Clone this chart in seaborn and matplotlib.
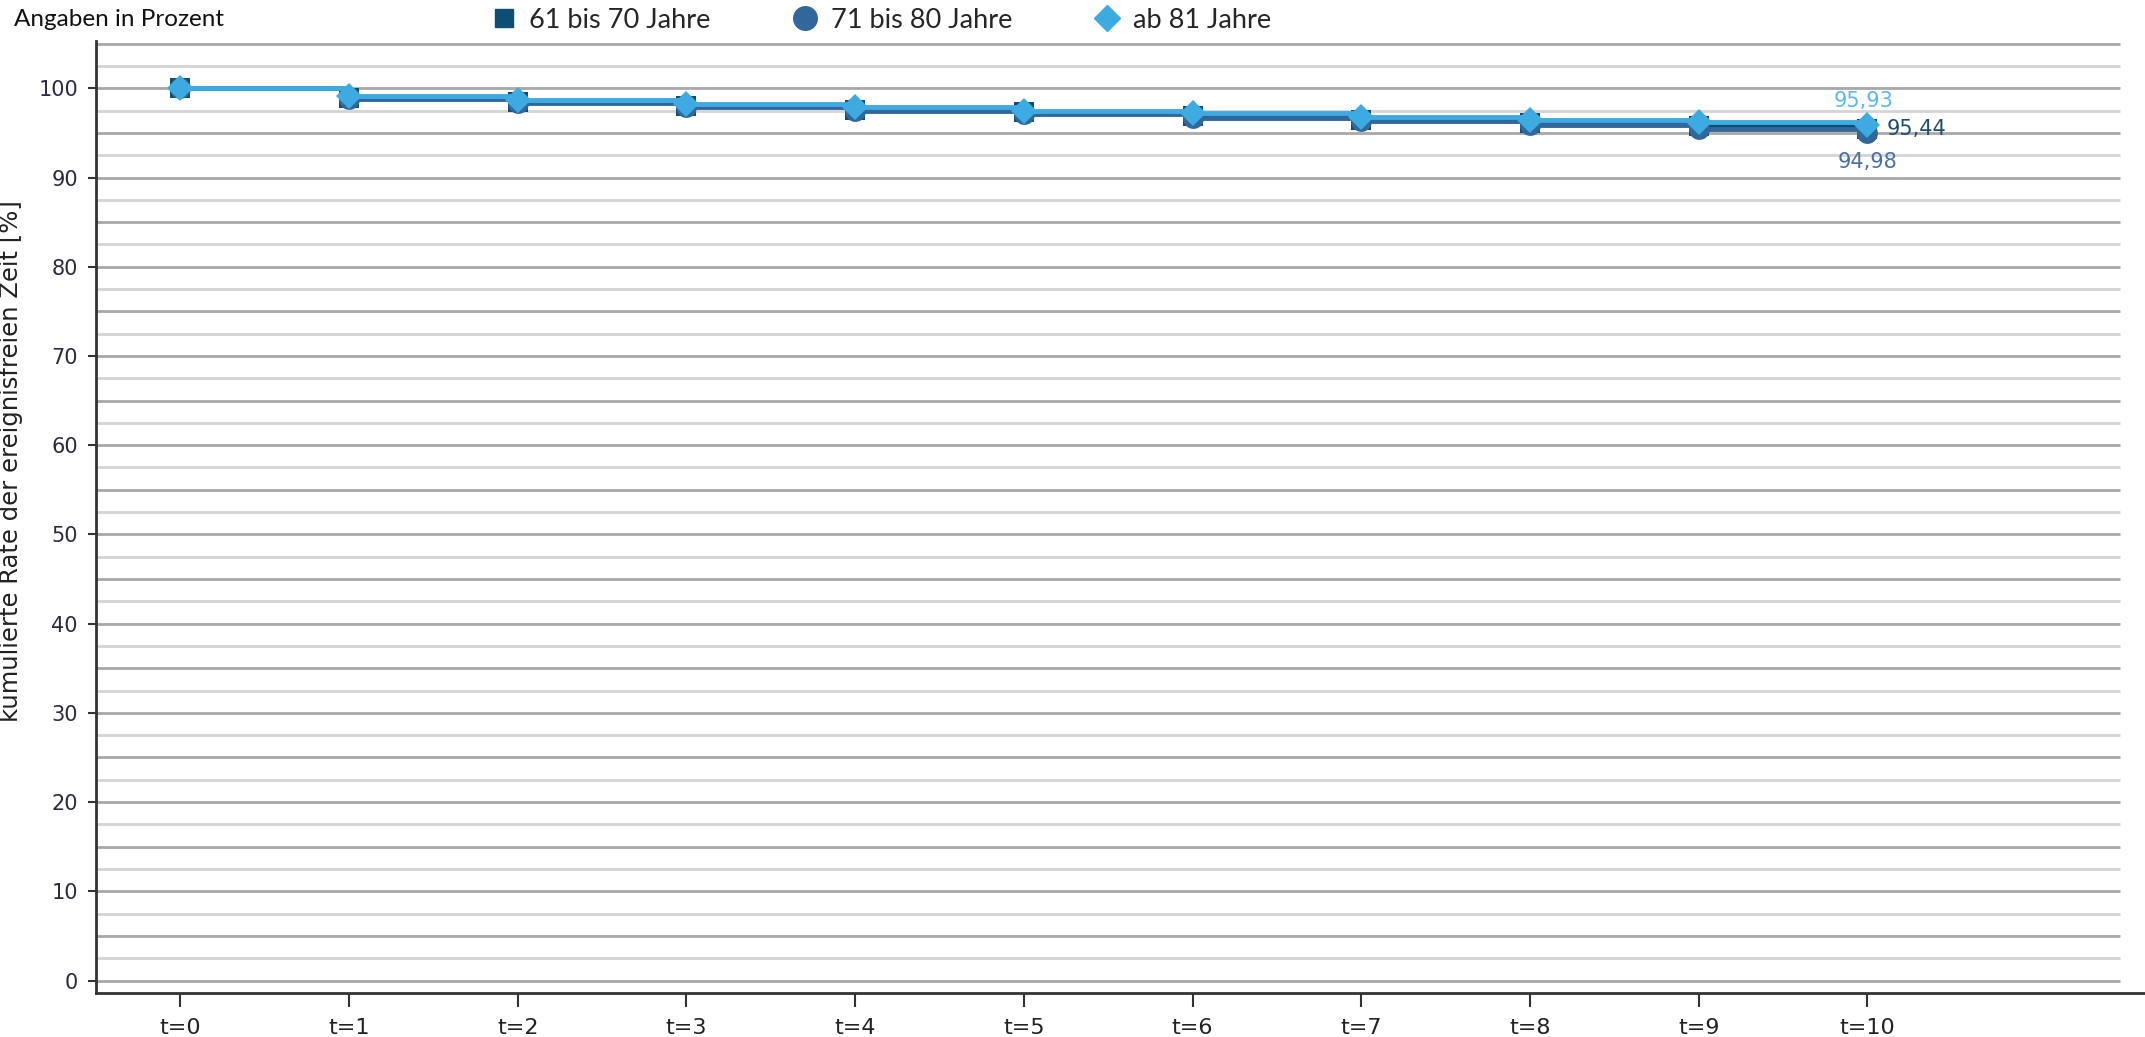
import numpy as np
import pandas as pd
import seaborn as sns
import matplotlib.pyplot as plt
from matplotlib.lines import Line2D

# Daten
zeitpunkte = ['t=0', 't=1', 't=2', 't=3', 't=4', 't=5', 't=6', 't=7', 't=8', 't=9', 't=10']
rate_61_70 = [100, 98.9, 98.5, 98.0, 97.6, 97.3, 96.9, 96.5, 96.1, 95.8, 95.44]
rate_71_80 = [100, 98.8, 98.3, 97.9, 97.5, 97.1, 96.7, 96.3, 95.9, 95.4, 94.98]
rate_ab_81 = [100, 99.1, 98.7, 98.2, 97.9, 97.5, 97.2, 96.8, 96.5, 96.2, 95.93]
gruppen = ['61 bis 70 Jahre', '71 bis 80 Jahre', 'ab 81 Jahre']
end_labels = ['95,44', '94,98', '95,93']
y_ticks = [0, 10, 20, 30, 40, 50, 60, 70, 80, 90, 100]

farben = ['#0C4F72', '#32679C', '#3DABE2']
label_farben = ['#1F4E6B', '#4A6FA5', '#5BB8EA']
marker = ['s', 'o', 'D']
marker_groesse = [14, 15, 13]

df = pd.DataFrame({
    'pos': list(range(len(zeitpunkte))) * 3,
    'rate': rate_61_70 + rate_71_80 + rate_ab_81,
    'gruppe': [g for g in gruppen for _ in zeitpunkte],
})

sns.set_theme(style='white')
plt.rcParams['font.family'] = ['DejaVu Sans']

fig = plt.figure(figsize=(21.45, 10.37), dpi=100)
ax = fig.add_axes([96 / 2145, 1 - 993 / 1037, 1 - 96 / 2145, (993 - 41) / 1037])

# Gitterlinien alle 2,5 (Vielfache von 5 dunkler)
for lvl in np.arange(0, 105.1, 2.5):
    col = '#A8A8A8' if lvl % 5 == 0 else '#D4D4D4'
    ax.hlines(lvl, -0.5, 11.5, colors=col, linewidth=2, zorder=0)

# Zeichenreihenfolge: 71-80 unten, 61-70 Mitte, ab 81 oben
for i in [1, 0, 2]:
    sub = df[df.gruppe == gruppen[i]]
    sns.lineplot(data=sub, x='pos', y='rate', ax=ax, color=farben[i],
                 marker=marker[i], markersize=marker_groesse[i],
                 markeredgewidth=0, linewidth=3.5, drawstyle='steps-post',
                 legend=False, zorder=3 + i)

# Endwerte
vals_end = [rate_61_70[-1], rate_71_80[-1], rate_ab_81[-1]]
offsets = [(14, 0, 'left', 'center'), (0, -21, 'center', 'center'), (-3, 17, 'center', 'center')]
for i in range(3):
    dx, dy, ha, va = offsets[i]
    ax.annotate(end_labels[i], (10, vals_end[i]), xytext=(dx, dy),
                textcoords='offset points', ha=ha, va=va, fontsize=15,
                color=label_farben[i], zorder=10)

ax.set_xlim(-0.5, 11.646)
ax.set_ylim(-1.4, 105.3)
ax.set_xticks(range(len(zeitpunkte)))
ax.set_xticklabels(zeitpunkte)
ax.set_yticks(y_ticks)
ax.set_xlabel('')
ax.set_ylabel('kumulierte Rate der ereignisfreien Zeit [%]', fontsize=17.5, color='#222222')
ax.yaxis.label.set_va('center')
ax.yaxis.set_label_coords(-0.0415, 0.559)

for s in ['top', 'right']:
    ax.spines[s].set_visible(False)
for s in ['left', 'bottom']:
    ax.spines[s].set_color('#333333')
    ax.spines[s].set_linewidth(2)

ax.tick_params(axis='x', direction='out', length=10, width=1.5, color='#333333',
               labelsize=16, labelcolor='#222222', pad=8, bottom=True)
ax.tick_params(axis='y', direction='out', length=6, width=1.5, color='#333333',
               labelsize=15, labelcolor='#2A2A40', pad=7, left=True)

fig.text(14 / 2145, 1 - 20 / 1037, 'Angaben in Prozent', fontsize=17.5,
         family=['Lato', 'DejaVu Sans'], va='center', ha='left', color='#111111')

handles = [
    Line2D([], [], linestyle='none', marker='s', markersize=13, color=farben[0]),
    Line2D([], [], linestyle='none', marker='o', markersize=17, color=farben[1]),
    Line2D([], [], linestyle='none', marker='D', markersize=13, color=farben[2]),
]
fig.legend(handles, gruppen, loc='center left', bbox_to_anchor=(490 / 2145, 1 - 20 / 1037),
           ncol=3, frameon=False, handlelength=1.0, handletextpad=0.45, columnspacing=3.0,
           prop={'family': ['Lato', 'DejaVu Sans'], 'size': 19.5}, borderaxespad=0, borderpad=0)

fig.savefig('out.png', dpi=100)
